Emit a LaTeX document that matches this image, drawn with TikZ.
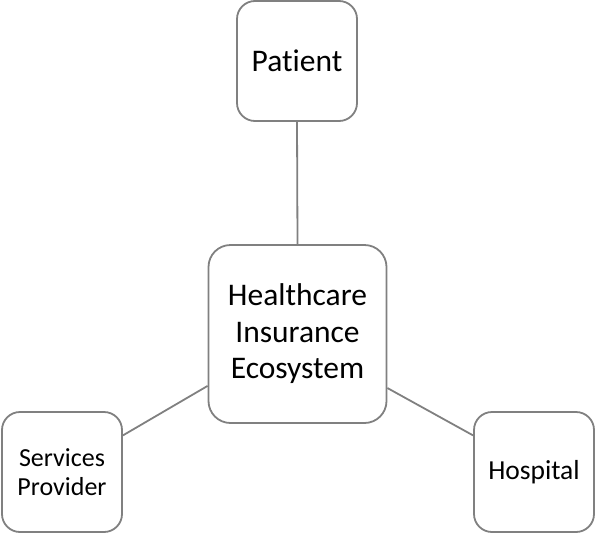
\documentclass[tikz,border=0pt]{standalone}
\usepackage{fontspec}
\setmainfont{Carlito}[RawFeature={-liga;-clig;-dlig}]
\definecolor{edgegray}{RGB}{128,128,128}
\begin{document}
\begin{tikzpicture}[x=1pt,y=-1pt,
  box/.style={draw=edgegray,line width=1.8pt,rounded corners=18pt,fill=white,
    inner sep=0pt,align=center,text=black},
  link/.style={draw=edgegray,line width=1.8pt}]
\useasboundingbox (0,0) rectangle (596,533);
\node[box,minimum width=120pt,minimum height=120pt,font=\fontsize{31.5}{36}\selectfont] (p) at (297,61) {Pat\kern0pt ient};
\node[box,rounded corners=22pt,minimum width=178pt,minimum height=178pt,font=\fontsize{31.5}{36.5}\selectfont] (c) at (297.5,334) {Healthcare\\Insurance\\Ecosystem};
\node[box,minimum width=120pt,minimum height=120pt,font=\fontsize{26}{29.5}\selectfont] (s) at (62,472) {Services\\Provider};
\node[box,minimum width=120pt,minimum height=120pt,font=\fontsize{27.5}{30}\selectfont] (h) at (534,472) {Hospital};
\draw[link] (p.south) -- (c.north);
\draw[link] (c.210.6) -- (s.31);
\draw[link] (c.329.4) -- (h.149);
\end{tikzpicture}
\end{document}
